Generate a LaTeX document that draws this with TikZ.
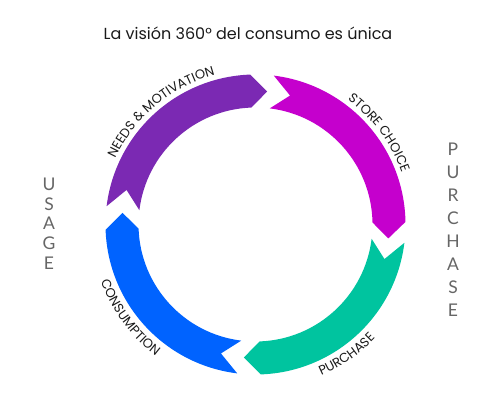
\documentclass[tikz,border=0pt]{standalone}
\usepackage{fontspec}
\setmainfont{Poppins}
\newfontfamily\sidefont{Lato}
\usetikzlibrary{decorations.text}
\definecolor{cpurple}{HTML}{7B29B3}
\definecolor{cmagenta}{HTML}{C500CD}
\definecolor{cgreen}{HTML}{00C49F}
\definecolor{cblue}{HTML}{0063FF}
\definecolor{ctext}{HTML}{1A1A1A}
\definecolor{cside}{HTML}{666666}
\newcommand\ringseg[3]{%
  \fill[#1] (#2:150pt) arc[start angle=#2,end angle=#3,radius=150pt]
    -- ({#3-7}:133.5pt) -- (#3:117pt)
    arc[start angle=#3,end angle=#2,radius=117pt]
    -- ({#2-8}:133.5pt) -- cycle;}
\newcommand\lblfont{\fontsize{13}{13}\selectfont}
\tikzset{
  sideletter/.style={font=\sidefont\fontsize{17.5}{17.5}\selectfont, text=cside, inner sep=0pt, anchor=center},
  curvelabel/.style={decorate, decoration={text along path, text align=center, text color=ctext, text={|\lblfont|#1}}}
}
\begin{document}
\begin{tikzpicture}[x=1pt,y=1pt]
\useasboundingbox (-255.5,-194.5) rectangle (244.5,224.5);
\ringseg{cpurple}{173}{92}
\ringseg{cmagenta}{83}{1}
\ringseg{cgreen}{-7}{-88}
\ringseg{cblue}{-97}{-178}
\node[font=\fontsize{16}{16}\selectfont, text=ctext] (title) at (-7.5,191.5) {La visión 360° del consumo es única};
\path[curvelabel={NEEDS {\&} MOTIVATION}] (175:155pt) arc[start angle=175,end angle=85,radius=155pt];
\path[curvelabel={STORE CHOICE}] (81.5:155pt) arc[start angle=81.5,end angle=-8.5,radius=155pt];
\path[curvelabel={PURCHASE}] (-100:165pt) arc[start angle=-100,end angle=-10,radius=165pt];
\path[curvelabel={CONSUMPTION}] (171.5:165pt) arc[start angle=171.5,end angle=261.5,radius=165pt];
\foreach \l [count=\i from 0] in {U,S,A,G,E}
  \node[sideletter] (usage\i) at (-206.5,{40.5-19.75*\i}) {\l};
\foreach \l [count=\i from 0] in {P,U,R,C,H,A,S,E}
  \node[sideletter] (purch\i) at (197.5,{75-23*\i}) {\l};
\end{tikzpicture}
\end{document}
